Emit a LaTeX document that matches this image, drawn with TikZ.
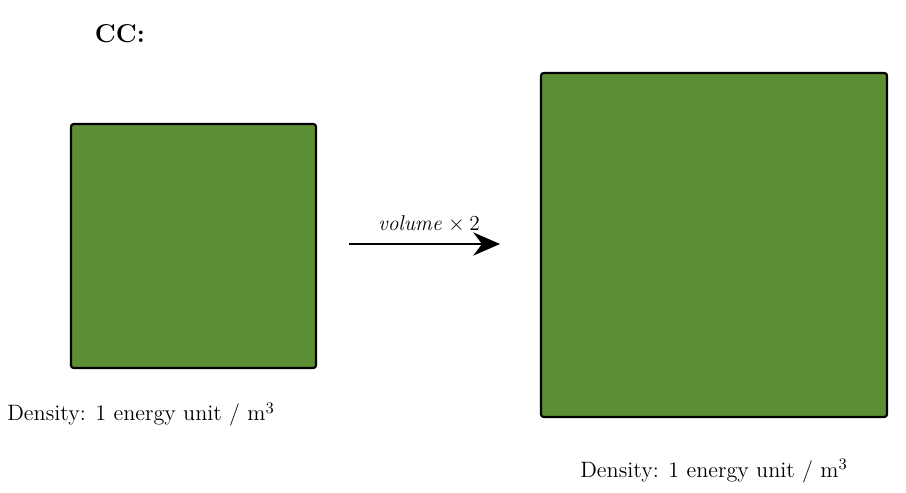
\documentclass[tikz,border=0pt]{standalone}
\usetikzlibrary{arrows.meta}
\definecolor{boxgreen}{HTML}{5C8F33}
\begin{document}
\begin{tikzpicture}[x=0.5618pt,y=-0.5618pt,
  gbox/.style={draw=black,fill=boxgreen,line width=1.2pt,rounded corners=1.5pt},
  lbl/.style={inner sep=0pt,anchor=base,font=\fontsize{12.5pt}{14pt}\selectfont}]
\useasboundingbox (0,0) rectangle (906,493);
\node[lbl,font=\fontsize{14.5pt}{16pt}\selectfont] (cc) at (120,43) {\textbf{CC:}};
\draw[gbox] (71,124) rectangle (316,368);
\draw[gbox] (541,73) rectangle (887,417);
\coordinate (a1) at (349,244);
\coordinate (a2) at (500,244);
\draw[line width=1.5pt,-{Stealth[length=15pt,width=13pt]}] (a1) -- (a2);
\node[lbl] (v) at (429,231) {$\mathit{volume}\times 2$};
\node[lbl] (d1) at (141,421) {Density: 1 energy unit / m$^3$};
\node[lbl] (d2) at (714,477) {Density: 1 energy unit / m$^3$};
\end{tikzpicture}
\end{document}
